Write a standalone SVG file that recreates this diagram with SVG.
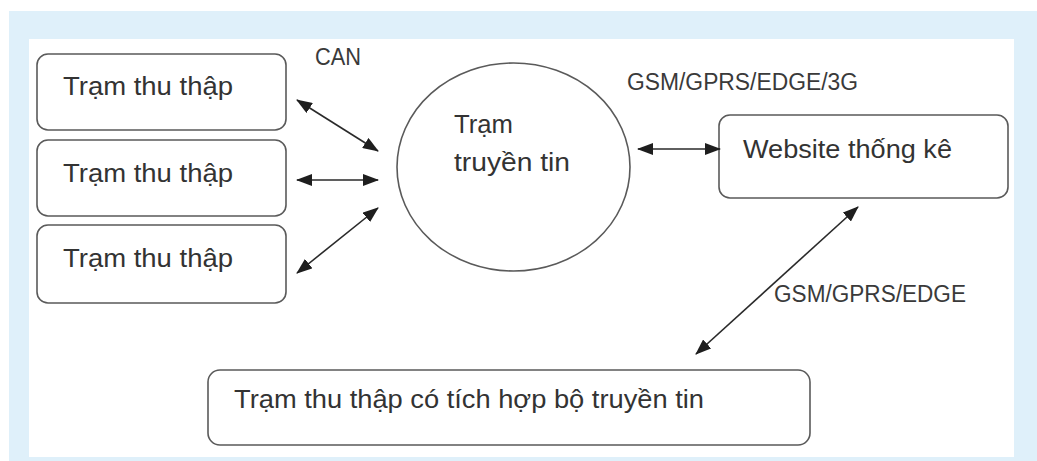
<svg xmlns="http://www.w3.org/2000/svg" width="1037" height="461" viewBox="0 0 1037 461">
<defs>
<style>
.box{fill:#fff;stroke:#5a5a5a;stroke-width:1.6}
.t{font-family:"Liberation Sans",Arial,sans-serif;font-size:26px;fill:#333}
.lbl{font-family:"Liberation Sans",Arial,sans-serif;font-size:23px;fill:#3a3a3a}
.conn{stroke:#2a2a2a;stroke-width:1.6;fill:none;marker-start:url(#ah);marker-end:url(#ah)}
</style>
<marker id="ah" markerUnits="userSpaceOnUse" markerWidth="16" markerHeight="12" viewBox="0 0 16 12" refX="15" refY="6" orient="auto-start-reverse">
<path d="M0,0 L16,6 L0,12 z" fill="#1e1e1e"/>
</marker>
</defs>
<rect x="0" y="0" width="1037" height="461" fill="#fff"/>
<rect x="9" y="11" width="1028" height="450" fill="#dff0fa"/>
<rect x="29" y="39" width="985" height="418" fill="#fff"/>

<g id="thu-thap-1">
<rect class="box" x="37" y="54" width="249" height="76" rx="11"/>
<text class="t" x="63" y="95" textLength="170" lengthAdjust="spacingAndGlyphs">Trạm thu thập</text>
</g>
<g id="thu-thap-2">
<rect class="box" x="37" y="140" width="249" height="76" rx="11"/>
<text class="t" x="63" y="182" textLength="170" lengthAdjust="spacingAndGlyphs">Trạm thu thập</text>
</g>
<g id="thu-thap-3">
<rect class="box" x="37" y="225" width="249" height="78" rx="11"/>
<text class="t" x="63" y="267" textLength="170" lengthAdjust="spacingAndGlyphs">Trạm thu thập</text>
</g>
<g id="truyen-tin">
<ellipse class="box" cx="513.5" cy="167" rx="116.5" ry="104"/>
<text class="t" x="454" y="133" textLength="59" lengthAdjust="spacingAndGlyphs">Trạm</text>
<text class="t" x="454" y="171" textLength="116" lengthAdjust="spacingAndGlyphs">truyền tin</text>
</g>
<g id="website">
<rect class="box" x="719" y="115" width="289" height="83" rx="11"/>
<text class="t" x="743" y="158" textLength="209" lengthAdjust="spacingAndGlyphs">Website thống kê</text>
</g>
<g id="thu-thap-tich-hop">
<rect class="box" x="208" y="370" width="602" height="75" rx="12"/>
<text class="t" x="234" y="408" textLength="470" lengthAdjust="spacingAndGlyphs">Trạm thu thập có tích hợp bộ truyền tin</text>
</g>

<g id="connectors">
<line class="conn" x1="297" y1="100" x2="378" y2="151"/>
<line class="conn" x1="297" y1="180" x2="378" y2="180"/>
<line class="conn" x1="378" y1="208" x2="297" y2="273"/>
<line class="conn" x1="638" y1="149" x2="720" y2="149"/>
<line class="conn" x1="858" y1="207" x2="696" y2="354"/>
</g>

<g id="labels">
<text class="lbl" x="315" y="65" textLength="46" lengthAdjust="spacingAndGlyphs">CAN</text>
<text class="lbl" x="627" y="90" textLength="231" lengthAdjust="spacingAndGlyphs">GSM/GPRS/EDGE/3G</text>
<text class="lbl" x="774" y="302" textLength="192" lengthAdjust="spacingAndGlyphs">GSM/GPRS/EDGE</text>
</g>
</svg>
